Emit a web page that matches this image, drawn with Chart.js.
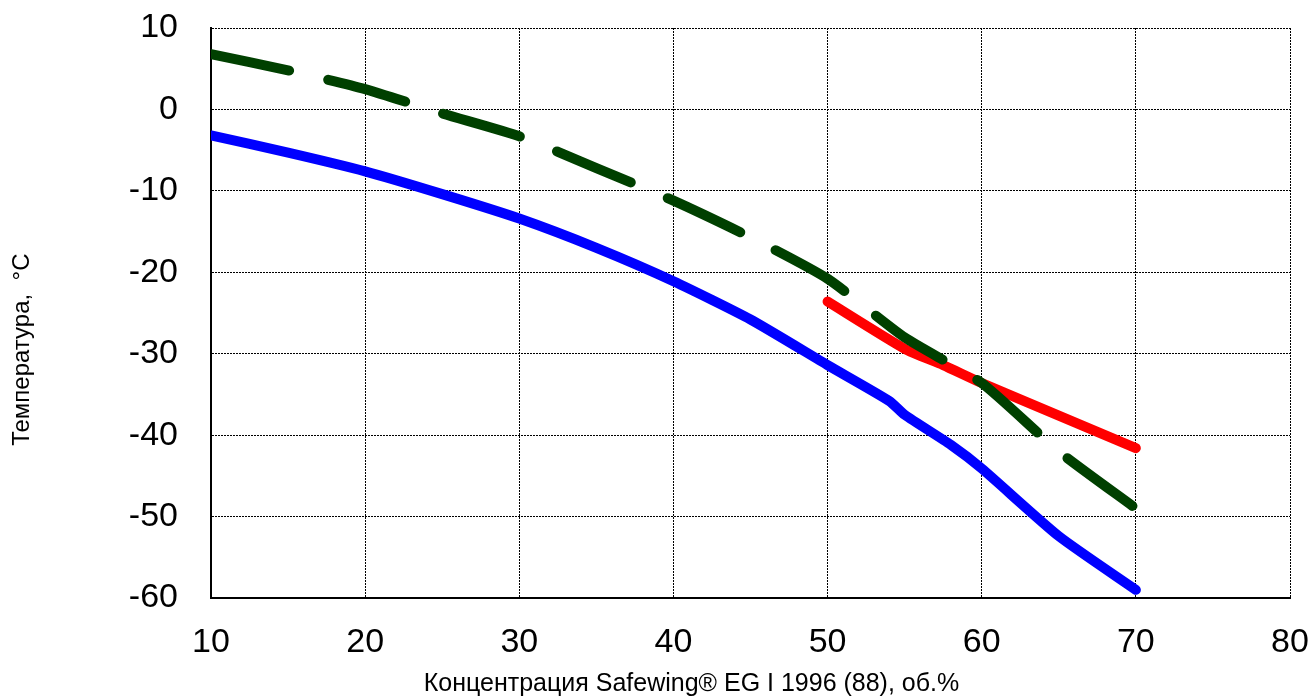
<!DOCTYPE html>
<html>
<head>
<meta charset="utf-8">
<script src="https://cdn.jsdelivr.net/npm/chart.js@4.4.1/dist/chart.umd.min.js"></script>
<style>
  html, body { margin: 0; padding: 0; background: #fff; }
  #wrap { width: 1311px; height: 699px; position: relative; }
</style>
</head>
<body>
<div id="wrap"><canvas id="chart"></canvas></div>
<script>
// concentration, vol.%
var blueX = [10, 15, 20, 25, 30, 35, 40, 45, 50, 54, 55, 58, 60, 65, 70];
var blueY = [-3.2, -5.3, -7.6, -10.4, -13.4, -17, -21.1, -25.8, -31.4, -35.8, -37.5, -41.2, -44.1, -52.4, -59];

var greenX = [10, 15, 20, 25, 30, 35, 40, 45, 50, 55, 60, 65, 70];
var greenY = [6.8, 4.8, 2.5, -0.5, -3.3, -7.2, -11.2, -15.7, -20.8, -28, -33.6, -42, -49];

var redX = [50, 55, 57.5, 60, 65, 70];
var redY = [-23.6, -29.4, -31.4, -33.6, -37.6, -41.6];

var xTicks = [10, 20, 30, 40, 50, 60, 70, 80];
var yTicks = [10, 0, -10, -20, -30, -40, -50, -60];

function pts(xs, ys) {
    return xs.map(function (x, i) { return { x: x, y: ys[i] }; });
}

// titles sit off-centre in the original, trailing spaces push them over
function pad(s, n) {
    return s + new Array(n + 1).join('\u00a0');
}

var FONT = 'Liberation Sans, Arial, sans-serif';

var ctx = document.getElementById('chart');
new Chart(ctx, {
    type: 'line',
    data: {
        datasets: [
            {
                data: pts(greenX, greenY),
                borderColor: '#004000',
                borderWidth: 10,
                borderDash: [80, 40],
                borderCapStyle: 'round',
                tension: 0.2,
                pointRadius: 0
            },
            {
                data: pts(redX, redY),
                borderColor: '#ff0000',
                borderWidth: 10,
                borderCapStyle: 'round',
                tension: 0.2,
                pointRadius: 0
            },
            {
                data: pts(blueX, blueY),
                borderColor: '#0000ff',
                borderWidth: 10,
                borderCapStyle: 'round',
                tension: 0.2,
                pointRadius: 0
            }
        ]
    },
    options: {
        responsive: true,
        maintainAspectRatio: false,
        animation: false,
        layout: { padding: { left: 0, right: 21, top: 28, bottom: 0 } },
        plugins: { legend: { display: false }, tooltip: { enabled: false } },
        scales: {
            x: {
                type: 'linear',
                min: 10,
                max: 80,
                afterBuildTicks: function (s) { s.ticks = xTicks.map(function (v) { return { value: v }; }); },
                afterFit: function (s) { s.height = 101; s.paddingLeft = 0; s.paddingRight = 0; },
                grid: { color: '#000', lineWidth: 1, drawTicks: false },
                border: { display: true, color: '#000', width: 2, dash: [2, 1] },
                ticks: {
                    color: '#000',
                    padding: 24,
                    font: { family: FONT, size: 34 }
                },
                title: {
                    display: true,
                    text: pad('Концентрация Safewing® EG I 1996 (88), об.%', 17),
                    color: '#000',
                    padding: { top: 0, bottom: 0 },
                    font: { family: FONT, size: 25 }
                }
            },
            y: {
                type: 'linear',
                min: -60,
                max: 10,
                afterBuildTicks: function (s) { s.ticks = yTicks.map(function (v) { return { value: v }; }); },
                afterFit: function (s) { s.width = 211; s.paddingTop = 0; s.paddingBottom = 0; },
                grid: { color: '#000', lineWidth: 1, drawTicks: false },
                border: { display: true, color: '#000', width: 2, dash: [2, 1] },
                ticks: {
                    color: '#000',
                    padding: 33,
                    font: { family: FONT, size: 34 }
                },
                title: {
                    display: true,
                    text: pad('Температура,  °C', 11),
                    color: '#000',
                    padding: { top: 8, bottom: 0 },
                    font: { family: FONT, size: 24 }
                }
            }
        }
    }
});
</script>
</body>
</html>
